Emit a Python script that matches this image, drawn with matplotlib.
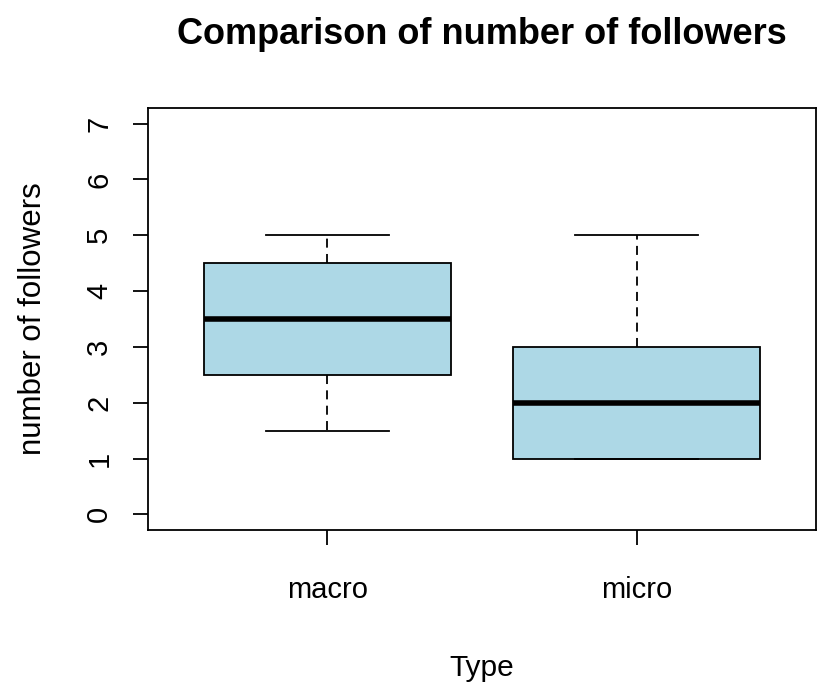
import matplotlib.pyplot as plt

plt.rcParams['font.family'] = ['Liberation Sans', 'DejaVu Sans']

# box statistics
types = ["macro", "micro"]
whisker_low = [1.5, 1.0]
q1 = [2.5, 1.0]
medians = [3.5, 2.0]
q3 = [4.5, 3.0]
whisker_high = [5.0, 5.0]

stats = []
for i, name in enumerate(types):
    stats.append({
        "label": name,
        "whislo": whisker_low[i],
        "q1": q1[i],
        "med": medians[i],
        "q3": q3[i],
        "whishi": whisker_high[i],
        "fliers": [],
    })

fig = plt.figure(figsize=(8.17, 6.84), dpi=100)
ax = fig.add_axes([148 / 817, 154 / 684, 668 / 817, 422 / 684])

ax.bxp(
    stats,
    positions=[1, 2],
    widths=0.8,
    patch_artist=True,
    boxprops=dict(facecolor="#ADD8E6", edgecolor="black", linewidth=1.3),
    medianprops=dict(color="black", linewidth=4),
    whiskerprops=dict(color="black", linewidth=1.3, linestyle=(0, (5, 3.5))),
    capprops=dict(color="black", linewidth=1.3),
    capwidths=0.4,
)

ax.set_xlim(0.42, 2.58)
ax.set_ylim(-0.28, 7.28)
ax.set_yticks(range(0, 8))
ax.set_xticks([1, 2])
ax.set_xticklabels(types)

for s in ax.spines.values():
    s.set_linewidth(1.3)

ax.tick_params(axis="both", direction="out", length=11, width=1.3, labelsize=21, colors="black")
ax.tick_params(axis="y", pad=14)
ax.tick_params(axis="x", pad=22)
for lbl in ax.get_yticklabels():
    lbl.set_rotation(90)
    lbl.set_va("center")

ax.set_xlabel("Type", fontsize=21.5, labelpad=36)
ax.set_ylabel("number of followers", fontsize=22.5, labelpad=27)
fig.suptitle("Comparison of number of followers", fontsize=26, fontweight="bold",
             x=482 / 817, y=1 - 35 / 684, va="center")

fig.savefig("out.png", dpi=100)
